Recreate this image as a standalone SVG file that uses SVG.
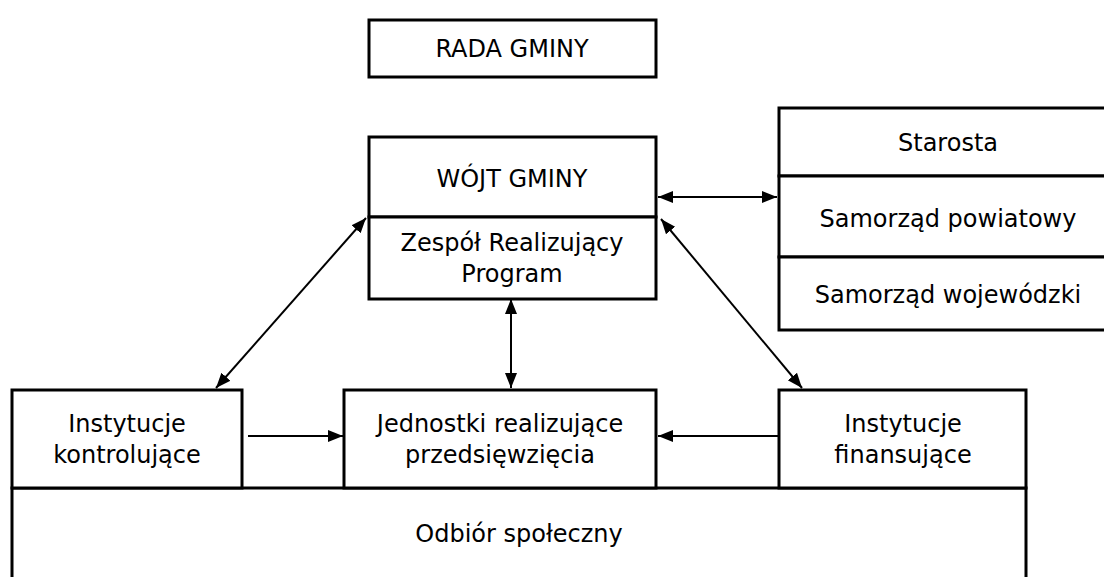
<svg xmlns="http://www.w3.org/2000/svg" width="1104" height="577" viewBox="0 0 1104 577">
<style>
.box{fill:#fff;stroke:#000;stroke-width:3}
.t{font-family:"DejaVu Sans",Verdana,sans-serif;font-size:24px;fill:#000;text-anchor:middle}
.c{stroke:#000;stroke-width:2;fill:none;marker-end:url(#ah);marker-start:url(#ah)}
.c1{stroke:#000;stroke-width:2;fill:none;marker-end:url(#ah)}
</style>
<defs>
<marker id="ah" markerUnits="userSpaceOnUse" markerWidth="16" markerHeight="14" refX="15" refY="6" orient="auto-start-reverse" viewBox="0 0 16 12">
<path d="M0,0 L15,6 L0,12 z" fill="#000"/>
</marker>
</defs>
<rect width="1104" height="577" fill="#fff"/>
<g id="rada">
<rect class="box" x="369" y="20" width="287" height="57"/>
<text class="t" x="512" y="57">RADA GMINY</text>
</g>
<g id="wojt">
<rect class="box" x="369" y="137" width="287" height="80"/>
<text class="t" x="512" y="187">WÓJT GMINY</text>
</g>
<g id="zespol">
<rect class="box" x="369" y="217" width="287" height="82"/>
<text class="t" x="512" y="251">Zespół Realizujący</text>
<text class="t" x="512" y="282">Program</text>
</g>
<g id="starosta">
<rect class="box" x="779" y="108" width="340" height="68"/>
<text class="t" x="948" y="151">Starosta</text>
</g>
<g id="powiat">
<rect class="box" x="779" y="176" width="340" height="81"/>
<text class="t" x="948" y="227">Samorząd powiatowy</text>
</g>
<g id="woj">
<rect class="box" x="779" y="257" width="340" height="73"/>
<text class="t" x="948" y="303">Samorząd wojewódzki</text>
</g>
<g id="odbior">
<rect class="box" x="12" y="488" width="1014" height="100"/>
<text class="t" x="519" y="542">Odbiór społeczny</text>
</g>
<g id="kontrol">
<rect class="box" x="12" y="390" width="230" height="98"/>
<text class="t" x="127" y="432">Instytucje</text>
<text class="t" x="127" y="463">kontrolujące</text>
</g>
<g id="jednostki">
<rect class="box" x="344" y="390" width="312" height="98"/>
<text class="t" x="500" y="432">Jednostki realizujące</text>
<text class="t" x="500" y="463">przedsięwzięcia</text>
</g>
<g id="finans">
<rect class="box" x="779" y="390" width="247" height="98"/>
<text class="t" x="903" y="432">Instytucje</text>
<text class="t" x="903" y="463">finansujące</text>
</g>
<g id="connectors">
<line class="c" x1="658" y1="197" x2="777" y2="197"/>
<line class="c" x1="366" y1="218" x2="216" y2="388"/>
<line class="c" x1="661" y1="219" x2="802" y2="388"/>
<line class="c" x1="511" y1="299" x2="511" y2="388"/>
<line class="c1" x1="248" y1="436" x2="343" y2="436"/>
<line class="c1" x1="778" y1="436" x2="658" y2="436"/>
</g>
</svg>
